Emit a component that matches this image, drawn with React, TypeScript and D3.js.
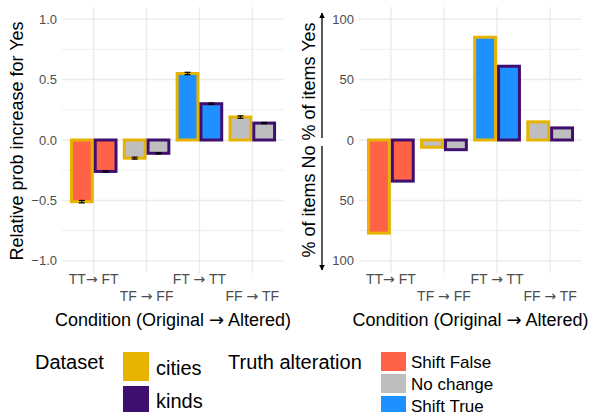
import React from "react";
import * as d3 from "d3";

const conditions = ["TT\u2192 FT", "TF \u2192 FF", "FT \u2192 TT", "FF \u2192 TF"];
const alteration = ["Shift False", "No change", "Shift True", "No change"];
const datasets = ["cities", "kinds"];
const probCities = [-0.51, -0.15, 0.55, 0.19];
const probKinds = [-0.26, -0.11, 0.3, 0.14];
const errCities = [0.01, 0.008, 0.01, 0.01];
const errKinds = [0.005, 0.005, 0.006, 0.005];
const pctCities = [-77, -6, 85, 15];
const pctKinds = [-34, -8, 61, 10];
const probTicks = [-1, -0.5, 0, 0.5, 1];
const pctTicks = [-100, -50, 0, 50, 100];
const alterLevels = ["Shift False", "No change", "Shift True"];

const FONT = "'Liberation Sans', Arial, Helvetica, sans-serif";
const ARROW_FONT = "'DejaVu Sans', sans-serif";
const fillColor = d3.scaleOrdinal<string, string>().domain(alterLevels).range(["#FF6347", "#BEBEBE", "#1E90FF"]);
const lineColor = d3.scaleOrdinal<string, string>().domain(datasets).range(["#E6B400", "#3F0F70"]);

const top = 7, bottom = 273;

// render the arrow glyph with a font that has a wide one
function withArrow(s: string) {
  const parts = s.split("\u2192");
  return parts.flatMap((p, i) =>
    i === 0 ? [p] : [<tspan key={i} fontFamily={ARROW_FONT}>{"\u2192"}</tspan>, p]
  );
}

type PanelProps = {
  x0: number; x1: number;
  series: number[][]; errs?: number[][];
  max: number; ticks: number[]; fmt: (v: number) => string;
};

function Panel({ x0, x1, series, errs, max, ticks, fmt }: PanelProps) {
  const x = d3.scalePoint<string>().domain(conditions).range([x0, x1]).padding(0.6);
  const y = d3.scaleLinear().domain([-max * 1.1, max * 1.1]).range([bottom, top]);
  const bw = (x.step() * 0.9) / 2;
  const minor = ticks.slice(1).map((t, i) => (t + ticks[i]) / 2);
  return (
    <g>
      {minor.map((t) => (
        <line key={"m" + t} x1={x0} x2={x1} y1={y(t)} y2={y(t)} stroke="#EBEBEB" strokeWidth={0.8} />
      ))}
      {ticks.map((t) => (
        <line key={"g" + t} x1={x0} x2={x1} y1={y(t)} y2={y(t)} stroke="#EBEBEB" strokeWidth={1.4} />
      ))}
      {conditions.map((c) => (
        <line key={"v" + c} x1={x(c)} x2={x(c)} y1={top} y2={bottom} stroke="#EBEBEB" strokeWidth={1.4} />
      ))}
      {ticks.map((t) => (
        <text key={"t" + t} x={x0 - 5} y={y(t)} dy="0.35em" textAnchor="end" fontSize={13} fill="#4D4D4D">
          {fmt(t)}
        </text>
      ))}
      {conditions.map((c, i) => (
        <text key={"xl" + c} x={x(c)} y={i % 2 === 0 ? 284 : 301} textAnchor="middle" fontSize={14} fill="#4D4D4D">
          {withArrow(c)}
        </text>
      ))}
      {series.map((vals, s) =>
        vals.map((v, i) => {
          const cx = x(conditions[i])! + (s === 0 ? -bw : 0);
          const ya = Math.min(y(0), y(v));
          const h = Math.abs(y(v) - y(0));
          return (
            <rect key={s + "-" + i} x={cx + 1.5} y={ya} width={bw - 3} height={h}
              fill={fillColor(alteration[i])} stroke={lineColor(datasets[s])} strokeWidth={3} />
          );
        })
      )}
      {errs &&
        errs.map((es, s) =>
          es.map((e, i) => {
            const cx = x(conditions[i])! + (s === 0 ? -bw / 2 : bw / 2);
            const v = series[s][i];
            return (
              <g key={"e" + s + i} stroke="#000" strokeWidth={1.2}>
                <line x1={cx} x2={cx} y1={y(v - e)} y2={y(v + e)} />
                <line x1={cx - 3} x2={cx + 3} y1={y(v - e)} y2={y(v - e)} />
                <line x1={cx - 3} x2={cx + 3} y1={y(v + e)} y2={y(v + e)} />
              </g>
            );
          })
        )}
      <text x={(x0 + x1) / 2} y={326} textAnchor="middle" fontSize={18} fill="#000">
        {withArrow("Condition (Original \u2192 Altered)")}
      </text>
    </g>
  );
}

export default function App() {
  return (
    <svg width={593} height={412} style={{ position: "absolute", left: 0, top: 0, fontFamily: FONT }}>
      <rect width={593} height={412} fill="#fff" />
      <Panel x0={62} x1={284} series={[probCities, probKinds]} errs={[errCities, errKinds]}
        max={1} ticks={probTicks} fmt={(v) => d3.format(".1f")(v).replace("-", "\u2212")} />
      <text transform="translate(23,141) rotate(-90)" textAnchor="middle" fontSize={18}>
        Relative prob increase for Yes
      </text>
      <Panel x0={359} x1={582} series={[pctCities, pctKinds]} max={100} ticks={pctTicks}
        fmt={(v) => String(Math.abs(v))} />
      <text transform="translate(315,140) rotate(-90)" textAnchor="middle" fontSize={18}>
        % of items No % of items Yes
      </text>
      <defs>
        <marker id="ah" viewBox="0 0 10 10" refX="9" refY="5" markerWidth="6" markerHeight="7" orient="auto" markerUnits="userSpaceOnUse">
          <path d="M0,0 L10,5 L0,10 z" fill="#000" />
        </marker>
      </defs>
      <line x1={322} x2={322} y1={138} y2={13} stroke="#000" strokeWidth={1.3} markerEnd="url(#ah)" />
      <line x1={322} x2={322} y1={146} y2={270} stroke="#000" strokeWidth={1.3} markerEnd="url(#ah)" />

      <text x={35} y={369} fontSize={20}>Dataset</text>
      {datasets.map((d, i) => (
        <g key={d}>
          <rect x={123} y={352 + i * 34} width={26} height={29} fill={lineColor(d)} />
          <text x={156} y={375 + i * 33} fontSize={20}>{d}</text>
        </g>
      ))}
      <text x={228} y={369} fontSize={20}>Truth alteration</text>
      {alterLevels.map((a, i) => (
        <g key={a}>
          <rect x={381} y={352 + i * 22} width={25} height={19} fill={fillColor(a)} />
          <text x={411} y={368 + i * 22} fontSize={17}>{a}</text>
        </g>
      ))}
    </svg>
  );
}
